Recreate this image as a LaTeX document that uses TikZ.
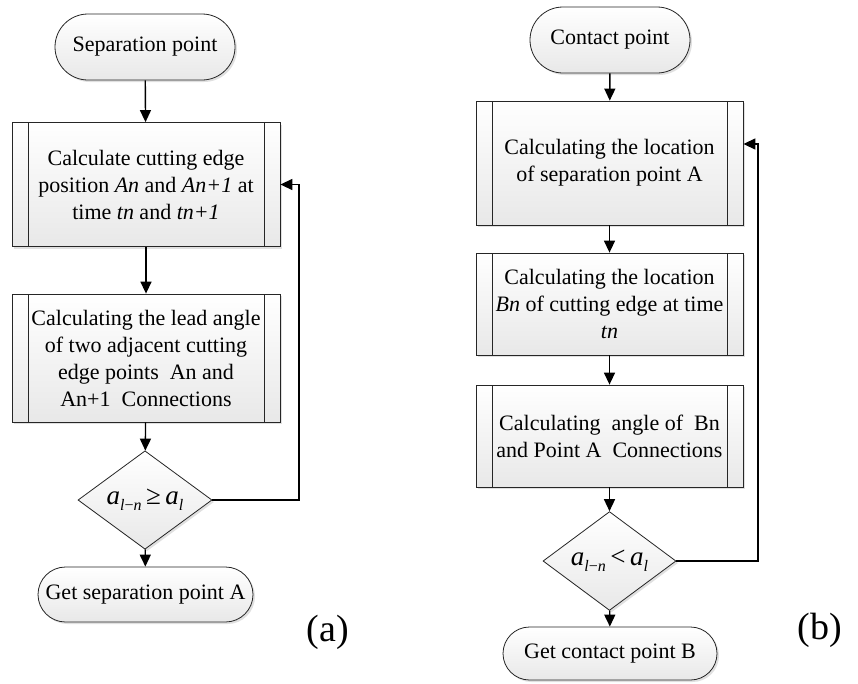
\documentclass[tikz,border=0pt]{standalone}
\usepackage{fontspec}
\setmainfont{Liberation Serif}
\usetikzlibrary{shapes.geometric,shapes.misc,arrows.meta,shadows}
\newcommand{\subx}[1]{\raisebox{-0.5ex}{\fontsize{16}{16}\selectfont #1}}
\begin{document}
\begin{tikzpicture}[x=1pt,y=-1pt,
 base/.style={draw=black!85, line width=0.8pt, top color=white, bottom color=gray!18,
   drop shadow={shadow xshift=2pt, shadow yshift=-2pt, fill=gray!40, opacity=0.6},
   font=\fontsize{22}{27}\selectfont, align=center, inner sep=0pt},
 term/.style={base, rounded rectangle},
 proc/.style={base, rectangle, path picture={
   \draw[line width=0.8pt] ([xshift=16pt]path picture bounding box.north west) -- ([xshift=16pt]path picture bounding box.south west);
   \draw[line width=0.8pt] ([xshift=-16pt]path picture bounding box.north east) -- ([xshift=-16pt]path picture bounding box.south east);}},
 dec/.style={base, diamond, font=\fontsize{27}{27}\selectfont},
 arr/.style={line width=1.4pt, -{Triangle[length=12pt,width=11pt]}},
 lab/.style={font=\fontsize{38}{38}\selectfont, inner sep=0pt}]
\path[fill=white] (0,0) rectangle (858,683);
\useasboundingbox (0,0) rectangle (858,683);
% (a)
\node[term, minimum width=180pt, minimum height=66pt] (s1) at (145,47) {Separation point};
\node[proc, minimum width=268pt, minimum height=124pt] (b1) at (146,184.5) {Calculate cutting edge\\position \textit{An} and \textit{An+1} at\\time \textit{tn} and \textit{tn+1}};
\node[proc, minimum width=268pt, minimum height=128pt] (b2) at (146,358) {Calculating the lead angle\\of two adjacent cutting\\edge points~ An and\\An+1~ Connections};
\node[dec, minimum width=134pt, minimum height=80pt] (d1) at (145,500) {\textit{a}\subx{\textit{l}−\textit{n}}\,≥\,\textit{a}\subx{\textit{l}}};
\node[term, minimum width=215pt, minimum height=55pt] (e1) at (145.5,594.5) {Get separation point A};
\coordinate (fa) at (299,184.5);
\draw[arr] (s1) -- (b1);
\draw[arr] (b1) -- (b2);
\draw[arr] (b2) -- (d1);
\draw[arr] (d1) -- (e1);
\draw[arr] (d1.east) -| (fa) -- (b1.east);
\node[lab] (la) at (328,632) {(a)};
% (b)
\node[term, minimum width=160pt, minimum height=66pt] (s2) at (610,40) {Contact point};
\node[proc, minimum width=267pt, minimum height=124pt] (c1) at (609.5,163) {Calculating the location\\of separation point A};
\node[proc, minimum width=267pt, minimum height=102pt] (c2) at (609.5,304) {Calculating the location\\\textit{Bn} of cutting edge at time\\\textit{tn}};
\node[proc, minimum width=267pt, minimum height=102pt] (c3) at (609.5,436) {Calculating~ angle of~ Bn\\and Point A~ Connections};
\node[dec, minimum width=133pt, minimum height=80pt] (d2) at (609.5,561) {\textit{a}\subx{\textit{l}−\textit{n}}\,<\,\textit{a}\subx{\textit{l}}};
\node[term, minimum width=214pt, minimum height=53pt] (e2) at (610,653.5) {Get contact point B};
\coordinate (fb) at (758,144);
\draw[arr] (s2) -- (c1);
\draw[arr] (c1) -- (c2);
\draw[arr] (c2) -- (c3);
\draw[arr] (c3) -- (d2);
\draw[arr] (d2) -- (e2);
\draw[arr] (d2.east) -| (fb) -- (fb -| c1.east);
\node[lab] (lb) at (820,630) {(b)};
\end{tikzpicture}
\end{document}
